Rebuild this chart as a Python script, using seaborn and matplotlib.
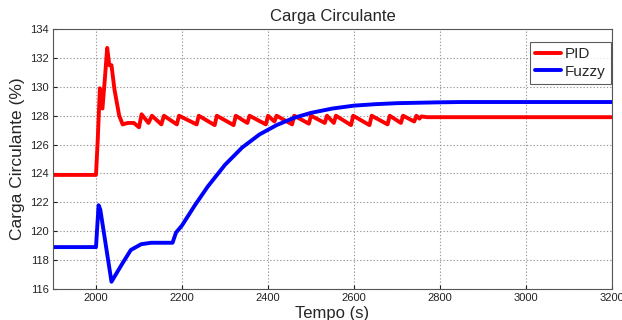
import numpy as np
import pandas as pd
import matplotlib
matplotlib.use("Agg")
import matplotlib.pyplot as plt
import seaborn as sns

pid_t = [1900, 2000, 2004, 2009, 2015, 2021, 2026, 2031, 2036, 2043, 2054, 2062, 2074,
         2088, 2100, 2106, 2122, 2130, 2152, 2158, 2188, 2193, 2234, 2239, 2276, 2281,
         2320, 2325, 2352, 2357, 2395, 2400, 2415, 2420, 2456, 2461, 2495, 2500, 2532,
         2537, 2553, 2558, 2593, 2598, 2636, 2641, 2678, 2683, 2709, 2714, 2740, 2745,
         2752, 2757, 2770, 3200]
pid_v = [123.9, 123.9, 126.3, 129.9, 128.5, 130.7, 132.7, 131.5, 131.5, 129.8, 128.0, 127.4, 127.5,
         127.5, 127.2, 128.1, 127.5, 128.0, 127.4, 128.0, 127.4, 128.0, 127.4, 128.0, 127.35, 128.0,
         127.35, 128.0, 127.5, 128.0, 127.4, 128.0, 127.6, 128.0, 127.4, 128.0, 127.45, 128.0, 127.5,
         128.0, 127.5, 128.0, 127.35, 128.0, 127.35, 128.0, 127.4, 128.0, 127.5, 128.0, 127.6, 128.0,
         127.8, 127.95, 127.9, 127.9]

fuzzy_t = [1900, 2000, 2006, 2010, 2036, 2060, 2081, 2105, 2128, 2159, 2178, 2186, 2200, 2230,
           2260, 2300, 2340, 2380, 2420, 2460, 2500, 2550, 2600, 2650, 2700, 2750, 2800,
           2850, 3200]
fuzzy_v = [118.9, 118.9, 121.8, 121.5, 116.5, 117.7, 118.7, 119.1, 119.2, 119.2, 119.2, 119.9, 120.4, 121.8,
           123.1, 124.6, 125.8, 126.7, 127.35, 127.85, 128.2, 128.5, 128.7, 128.8, 128.87, 128.9, 128.93,
           128.95, 128.95]

series = ["PID", "Fuzzy"]
colors = ["#ff0000", "#0000ff"]

df = pd.concat([
    pd.DataFrame({"t": pid_t, "v": pid_v, "s": "PID"}),
    pd.DataFrame({"t": fuzzy_t, "v": fuzzy_v, "s": "Fuzzy"}),
], ignore_index=True)

sns.set_style("ticks")
plt.rcParams["font.family"] = ["Liberation Sans", "DejaVu Sans"]

fig = plt.figure(figsize=(6.22, 3.2), dpi=100)
ax = fig.add_axes([0.0852, 0.097, 0.8988, 0.812])

sns.lineplot(data=df, x="t", y="v", hue="s", hue_order=series,
             palette=dict(zip(series, colors)), sort=False, estimator=None,
             linewidth=2.8, ax=ax)

ax.set_xlim(1900, 3200)
ax.set_ylim(116, 134)
ax.set_xticks(np.arange(2000, 3201, 200))
ax.set_yticks(np.arange(116, 135, 2))
ax.grid(True, linestyle=(0, (1.2, 1.8)), color="#999999", linewidth=0.8)
ax.tick_params(direction="in", length=3, labelsize=8, colors="#222222", pad=3)
for sp in ax.spines.values():
    sp.set_visible(True)
    sp.set_color("#555555")
    sp.set_linewidth(0.8)

ax.set_title("Carga Circulante", fontsize=12, pad=6)
ax.set_xlabel("Tempo (s)", fontsize=12, labelpad=2)
ax.set_ylabel("Carga Circulante (%)", fontsize=12.5, labelpad=4)

leg = ax.legend(loc="upper right", bbox_to_anchor=(1.0, 0.955), fontsize=11,
                frameon=True, fancybox=False, edgecolor="#333333",
                handlelength=1.7, borderpad=0.35, labelspacing=0.25,
                handletextpad=0.25, borderaxespad=0.05)
leg.get_frame().set_linewidth(0.8)

fig.savefig("out.png", dpi=100)
